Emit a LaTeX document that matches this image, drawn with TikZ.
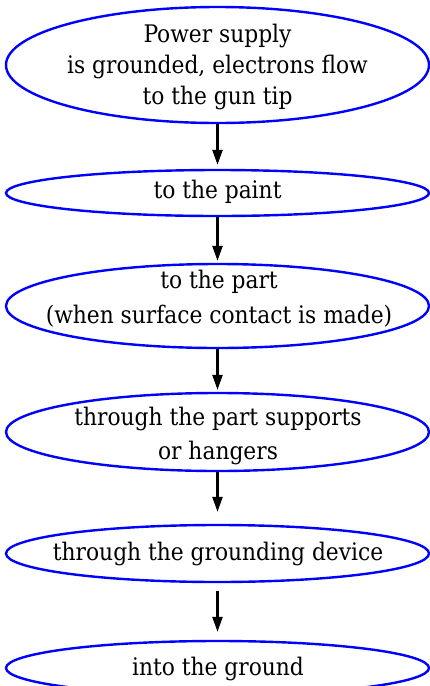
\documentclass[tikz,border=0pt]{standalone}
\usepackage{fontspec}
\setmainfont{DejaVu Serif Condensed}
\usetikzlibrary{shapes.geometric,arrows.meta}
\begin{document}
\begin{tikzpicture}[x=1pt,y=-1pt,
  oval/.style={ellipse,draw=blue,line width=2.4pt,minimum width=423pt,inner sep=0pt},
  txt/.style={align=center,inner sep=0pt,anchor=base,font=\fontsize{24.2}{#1}\selectfont},
  txt/.default=31,
  flow/.style={line width=2.4pt,-{Triangle[length=15pt,width=10pt]}}]
\useasboundingbox (0,0) rectangle (430,686);
\node[oval,minimum height=116pt] (n1) at (217.5,65) {};
\node[oval,minimum height=46pt] (n2) at (217.5,193) {};
\node[oval,minimum height=84pt] (n3) at (217.5,306) {};
\node[oval,minimum height=78pt] (n4) at (217.5,432) {};
\node[oval,minimum height=57pt] (n5) at (217.5,553.5) {};
\node[oval,minimum height=54pt] (n6) at (217.5,668) {};
\node[txt=30.7] (t1) at (217.5,104) {Power supply\\is grounded, electrons flow\\to the gun tip};
\node[txt] (t2) at (217.5,198) {to the paint};
\node[txt=35] (t3) at (219,323) {to the part\\(when surface contact is made)};
\node[txt=34] (t4) at (218,459) {through the part supports\\or hangers};
\node[txt] (t5) at (218,560.7) {through the grounding device};
\node[txt] (t6) at (218,675.7) {into the ground};
\draw[flow,shorten >=4pt] (n1) -- (n2);
\draw[flow,shorten >=2pt] (n2) -- (n3);
\draw[flow,shorten >=2pt] (n3) -- (n4);
\draw[flow,shorten >=12pt] (n4) -- (n5);
\draw[flow,shorten <=8pt,shorten >=8pt] (n5) -- (n6);
\end{tikzpicture}
\end{document}
